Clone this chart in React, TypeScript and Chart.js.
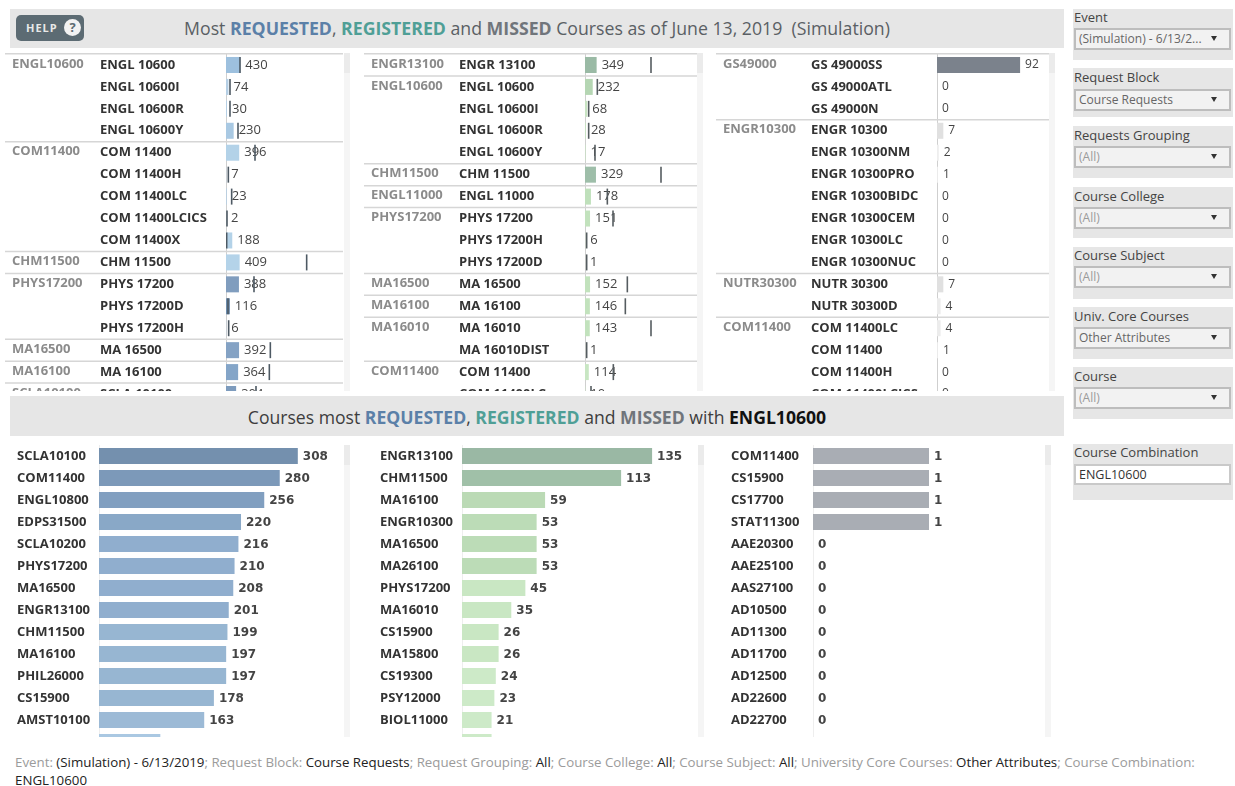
import React, { useEffect, useRef } from "react";
import { Chart, registerables } from "chart.js";

Chart.register(...registerables);

// ---------- data ----------
const requestedCourses = ["ENGL 10600","ENGL 10600I","ENGL 10600R","ENGL 10600Y","COM 11400","COM 11400H","COM 11400LC","COM 11400LCICS","COM 11400X","CHM 11500","PHYS 17200","PHYS 17200D","PHYS 17200H","MA 16500","MA 16100","SCLA 10100"];
const requestedValues = [430,74,30,230,396,7,23,2,188,409,388,116,6,392,364,304];
const requestedMarks = [420,120,120,360,870,70,170,30,20,2420,840,60,80,1330,1300,900];
const requestedGroups: [string, number][] = [["ENGL10600",4],["COM11400",5],["CHM11500",1],["PHYS17200",3],["MA16500",1],["MA16100",1],["SCLA10100",1]];
const requestedColors = ["#9dc0de","#b5cfe5","#b5cfe5","#a9c9e3","#b3d2e8","#b5cfe5","#b5cfe5","#b5cfe5","#b3d2e8","#b4d3e9","#809dbe","#6c8cad","#a9c9e3","#84a2c4","#84a5c8","#7d9bbd"];

const registeredCourses = ["ENGR 13100","ENGL 10600","ENGL 10600I","ENGL 10600R","ENGL 10600Y","CHM 11500","ENGL 11000","PHYS 17200","PHYS 17200H","PHYS 17200D","MA 16500","MA 16100","MA 16010","MA 16010DIST","COM 11400","COM 11400LC"];
const registeredValues = [349,232,68,28,17,329,178,151,6,1,152,146,143,1,114,10];
const registeredMarks = [1980,370,110,110,300,2280,670,840,50,50,1270,1210,1980,50,850,180];
const registeredGroups: [string, number][] = [["ENGR13100",1],["ENGL10600",4],["CHM11500",1],["ENGL11000",1],["PHYS17200",3],["MA16500",1],["MA16100",1],["MA16010",2],["COM11400",2]];
const registeredColors = ["#9abaa5","#b5d6b3","#c8e4c3","#c8e4c3","#c8e4c3","#9ebea9","#bfe0bb","#c2e2bd","#c8e4c3","#c8e4c3","#c2e2bd","#c2e2bd","#c2e2bd","#c8e4c3","#c8e6c3","#c8e4c3"];

const missedCourses = ["GS 49000SS","GS 49000ATL","GS 49000N","ENGR 10300","ENGR 10300NM","ENGR 10300PRO","ENGR 10300BIDC","ENGR 10300CEM","ENGR 10300LC","ENGR 10300NUC","NUTR 30300","NUTR 30300D","COM 11400LC","COM 11400","COM 11400H","COM 11400LCICS"];
const missedValues = [92,0,0,7,2,1,0,0,0,0,7,4,4,1,0,0];
const missedGroups: [string, number][] = [["GS49000",3],["ENGR10300",7],["NUTR30300",2],["COM11400",4]];
const missedColors = ["#7b828c","#eeeeee","#eeeeee","#e0e0e0","#eeeeee","#eeeeee","#eeeeee","#eeeeee","#eeeeee","#eeeeee","#e0e0e0","#ececec","#ececec","#eeeeee","#eeeeee","#eeeeee"];

const withRequestedCourses = ["SCLA10100","COM11400","ENGL10800","EDPS31500","SCLA10200","PHYS17200","MA16500","ENGR13100","CHM11500","MA16100","PHIL26000","CS15900","AMST10100",""];
const withRequestedValues = [308,280,256,220,216,210,208,201,199,197,197,178,163,95];
const withRegisteredCourses = ["ENGR13100","CHM11500","MA16100","ENGR10300","MA16500","MA26100","PHYS17200","MA16010","CS15900","MA15800","CS19300","PSY12000","BIOL11000",""];
const withRegisteredValues = [135,113,59,53,53,53,45,35,26,26,24,23,21,21];
const withMissedCourses = ["COM11400","CS15900","CS17700","STAT11300","AAE20300","AAE25100","AAS27100","AD10500","AD11300","AD11700","AD12500","AD22600","AD22700",""];
const withMissedValues = [1,1,1,1,0,0,0,0,0,0,0,0,0,0];

const filters: { title: string; value: string; top: number; h: number; sel: number; titleTop: number; dim?: boolean }[] = [
  { title: "Event", value: "(Simulation) - 6/13/2...", top: 9, h: 51, sel: 28, titleTop: 8 },
  { title: "Request Block", value: "Course Requests", top: 68, h: 49, sel: 89, titleTop: 68 },
  { title: "Requests Grouping", value: "(All)", top: 126, h: 52, sel: 146, titleTop: 126 },
  { title: "Course College", value: "(All)", top: 187, h: 51, sel: 207, titleTop: 187 },
  { title: "Course Subject", value: "(All)", top: 247, h: 52, sel: 266, titleTop: 246 },
  { title: "Univ. Core Courses", value: "Other Attributes", top: 307, h: 52, sel: 327, titleTop: 307 },
  { title: "Course", value: "(All)", top: 367, h: 52, sel: 387, titleTop: 367 },
].map((f) => ({ ...f, dim: f.value === "(All)" }));

// ---------- styling helpers ----------
const FONT = '"Open Sans", sans-serif';
const BLUE = "#5b80a8";
const TEAL = "#4f9f96";
const GREY = "#70757b";

const blueRamp: [number, string][] = [[95,"#aac8e2"],[163,"#9cbad6"],[178,"#97b6d2"],[200,"#90aece"],[220,"#89a8c7"],[256,"#819fc0"],[280,"#7c99b9"],[308,"#7490ae"]];
const greenRamp: [number, string][] = [[21,"#cdeac8"],[26,"#c9e7c3"],[53,"#bcdcb7"],[59,"#bbdab5"],[113,"#a0c0a8"],[135,"#9ab8a4"]];
const rampColor = (ramp: [number, string][]) => (v: number) => {
  let c = ramp[0][1];
  for (const [k, col] of ramp) if (v >= k) c = col;
  return c;
};

type PanelProps = {
  left: number; top: number; width: number; height: number; clipHeight: number;
  labelPad: number; axisWidth: number; max: number; padTop: number; valueDy: number;
  labels: string[]; values: number[]; colors: string[];
  marks?: number[]; markColor?: string; groups?: [string, number][];
  valueFont: string; valueColor: string; axisColor: string;
  trackLeft: number; hideLastLabel?: boolean;
};

function Panel(p: PanelProps) {
  const ref = useRef<HTMLCanvasElement>(null);
  useEffect(() => {
    const overlay = {
      id: "overlay",
      beforeDatasetsDraw(chart: any) {
        const { ctx } = chart;
        const y = chart.scales.y, x = chart.scales.x;
        ctx.save();
        ctx.font = p.valueFont;
        ctx.fillStyle = p.valueColor;
        ctx.textBaseline = "middle";
        ctx.textAlign = "left";
        p.values.forEach((v, i) => {
          if (p.hideLastLabel && i === p.values.length - 1) return;
          ctx.fillText(String(v), x.getPixelForValue(v) + 5, y.getPixelForValue(i) + p.valueDy);
        });
        if (p.groups) {
          let row = 0;
          const band = (chart.height - p.padTop) / p.labels.length;
          ctx.strokeStyle = "#d6d6d6";
          ctx.lineWidth = 1.5;
          p.groups.forEach(([name, n]) => {
            const yy = row === 0 ? 0.75 : y.getPixelForValue(row) - band / 2;
            ctx.beginPath();
            ctx.moveTo(0, yy);
            ctx.lineTo(chart.width, yy);
            ctx.stroke();
            ctx.font = "bold 13px " + FONT;
            ctx.fillStyle = "#8b8b8b";
            ctx.fillText(name, 7, y.getPixelForValue(row) - 1);
            row += n;
          });
        }
        ctx.restore();
      },
    };
    const datasets: any[] = [
      {
        type: "bar", indexAxis: "y", data: p.values, backgroundColor: p.colors,
        barPercentage: 0.73, categoryPercentage: 1, order: 2,
      },
    ];
    if (p.marks) {
      datasets.push({
        type: "scatter", order: 1,
        data: p.marks.map((m, i) => ({ x: m, y: p.labels[i] })),
        pointStyle: "line", pointRotation: 90, pointRadius: 8,
        pointBorderColor: p.markColor, pointBorderWidth: 1.6, pointBackgroundColor: p.markColor,
      });
    }
    const chart = new Chart(ref.current!, {
      type: "bar",
      data: { labels: p.labels, datasets },
      plugins: [overlay],
      options: {
        animation: false, responsive: false, maintainAspectRatio: false,
        layout: { autoPadding: false, padding: { left: p.labelPad, right: 0, top: p.padTop, bottom: 0 } },
        plugins: { legend: { display: false }, tooltip: { enabled: false } },
        scales: {
          x: { type: "linear", display: false, min: 0, max: p.max, offset: false, grid: { offset: false } },
          y: {
            type: "category", offset: true, position: "left",
            grid: { display: false, drawTicks: false },
            border: { display: true, color: p.axisColor, width: 1 },
            ticks: {
              autoSkip: false, crossAlign: "far", padding: 0, color: "#333333",
              font: { family: FONT, size: 13, weight: "bold" },
            },
            afterFit(s: any) { s.width = p.axisWidth; s.paddingTop = 0; s.paddingBottom = 0; },
          },
        },
      } as any,
    } as any);
    return () => chart.destroy();
  }, []);
  return (
    <>
      <div style={{ position: "absolute", left: p.left, top: p.top, width: p.width, height: p.clipHeight, overflow: "hidden" }}>
        <canvas ref={ref} width={p.width} height={p.height} style={{ display: "block" }} />
      </div>
      <div style={{ position: "absolute", left: p.trackLeft, top: p.top, width: 6, height: p.clipHeight, background: "#f5f5f5" }}>
        <div style={{ width: 6, height: 20, background: "#ebebeb" }} />
      </div>
    </>
  );
}

function Filter({ title, value, top, h, sel, titleTop, dim }: (typeof filters)[number]) {
  return (
    <>
      <div style={{ position: "absolute", left: 1073, top, width: 160, height: h, background: "#e6e6e6" }} />
      <div style={{ position: "absolute", left: 1074, top: titleTop, font: "13px " + FONT, color: "#444", lineHeight: "18px", whiteSpace: "nowrap" }}>{title}</div>
      <div style={{ position: "absolute", left: 1074, top: sel, width: 150, height: 18, border: "2px solid #bdbdbd", background: "#f2f2f2", font: "12px " + FONT, color: dim ? "#9a9a9a" : "#666", lineHeight: "18px", paddingLeft: 3, boxSizing: "content-box", whiteSpace: "nowrap" }}>
        {value}
        <div style={{ position: "absolute", right: 12, top: 6, width: 0, height: 0, borderLeft: "3.5px solid transparent", borderRight: "3.5px solid transparent", borderTop: "5px solid #333" }} />
      </div>
    </>
  );
}

const Dim = ({ children }: { children: React.ReactNode }) => <span style={{ color: "#9b9b9b" }}>{children}</span>;

export default function App() {
  const lowBlue = rampColor(blueRamp);
  const lowGreen = rampColor(greenRamp);
  const topShared = { top: 53, height: 352, clipHeight: 338, padTop: 1, valueDy: 0, labelPad: 95, axisWidth: 126, axisColor: "#cfcfcf", valueFont: "13px " + FONT, valueColor: "#444444" };
  const lowShared = { top: 445, height: 308, clipHeight: 292, padTop: 0, valueDy: 1, valueFont: "bold 12px 'DejaVu Sans'", valueColor: "#444444", axisColor: "#eeeeee", hideLastLabel: true };
  return (
    <div style={{ position: "fixed", left: 0, top: 0, width: 1235, height: 786, overflow: "hidden", background: "#fff", fontFamily: FONT }}>
      <div style={{ position: "absolute", left: 10, top: 9, width: 1054, height: 39, background: "#e6e6e6" }} />
      <div style={{ position: "absolute", left: 16, top: 15, width: 68, height: 26, borderRadius: 5, background: "#5c6b73", color: "#e8e8e8", font: "bold 11px " + FONT, letterSpacing: 1, lineHeight: "26px", paddingLeft: 10, boxSizing: "border-box" }}>
        HELP
        <div style={{ position: "absolute", left: 48, top: 4, width: 17, height: 17, borderRadius: 9, background: "#f2f2f2", color: "#5c6b73", font: "bold 13px " + FONT, letterSpacing: 0, lineHeight: "17px", textAlign: "center" }}>?</div>
      </div>
      <div style={{ position: "absolute", left: 10, width: 1054, top: 9, lineHeight: "39px", textAlign: "center", fontSize: 17.7, color: "#5a5f64", whiteSpace: "pre" }}>
        {"Most "}<b style={{ color: BLUE }}>REQUESTED</b>{", "}<b style={{ color: TEAL }}>REGISTERED</b>{" and "}<b style={{ color: GREY }}>MISSED</b>{" Courses as of June 13, 2019  (Simulation)"}
      </div>

      <Panel {...topShared} left={5} width={338} max={3510} trackLeft={344} labels={requestedCourses} values={requestedValues} marks={requestedMarks} markColor="#4d5963" colors={requestedColors} groups={requestedGroups} />
      <Panel {...topShared} left={364} width={333} max={3360} trackLeft={697} labels={registeredCourses} values={registeredValues} marks={registeredMarks} markColor="#555c60" colors={registeredColors} groups={registeredGroups} />
      <Panel {...topShared} left={716} width={333} max={124} trackLeft={1049} labels={missedCourses} values={missedValues} colors={missedColors} groups={missedGroups} valueFont={"12px " + FONT} />

      <div style={{ position: "absolute", left: 10, top: 396, width: 1054, height: 40, background: "#e6e6e6" }} />
      <div style={{ position: "absolute", left: 10, width: 1054, top: 397, lineHeight: "40px", textAlign: "center", fontSize: 17.6, color: "#3d3d3d", whiteSpace: "pre" }}>
        {"Courses most "}<b style={{ color: BLUE }}>REQUESTED</b>{", "}<b style={{ color: TEAL }}>REGISTERED</b>{" and "}<b style={{ color: GREY }}>MISSED</b>{" with "}<b style={{ color: "#111" }}>ENGL10600</b>
      </div>

      <Panel {...lowShared} left={10} width={333} labelPad={7} axisWidth={82} max={378} trackLeft={344} labels={withRequestedCourses} values={withRequestedValues} colors={withRequestedValues.map(lowBlue)} />
      <Panel {...lowShared} left={370} width={328} labelPad={10} axisWidth={82} max={167.6} trackLeft={698} labels={withRegisteredCourses} values={withRegisteredValues} colors={withRegisteredValues.map(lowGreen)} />
      <Panel {...lowShared} left={721} width={324} labelPad={10} axisWidth={82} max={2} trackLeft={1045} labels={withMissedCourses} values={withMissedValues} colors={withMissedValues.map(() => "#a9adb4")} />

      {filters.map((f) => <Filter key={f.title} {...f} />)}
      <div style={{ position: "absolute", left: 1073, top: 444, width: 160, height: 56, background: "#e6e6e6" }} />
      <div style={{ position: "absolute", left: 1074, top: 443, font: "13px " + FONT, color: "#444", lineHeight: "18px" }}>Course Combination</div>
      <div style={{ position: "absolute", left: 1074, top: 464, width: 150, height: 17, border: "2px solid #c9c9c9", background: "#fff", font: "12.5px " + FONT, color: "#333", lineHeight: "17px", paddingLeft: 3 }}>ENGL10600</div>

      <div style={{ position: "absolute", left: 15, top: 753, width: 1190, font: "13.3px/18px " + FONT, color: "#222" }}>
        <Dim>Event: </Dim>(Simulation) - 6/13/2019<Dim>; Request Block: </Dim>Course Requests<Dim>; Request Grouping: </Dim>All<Dim>; Course College: </Dim>All<Dim>; Course Subject: </Dim>All<Dim>; University Core Courses: </Dim>Other Attributes<Dim>; Course Combination: </Dim>ENGL10600
      </div>
    </div>
  );
}
